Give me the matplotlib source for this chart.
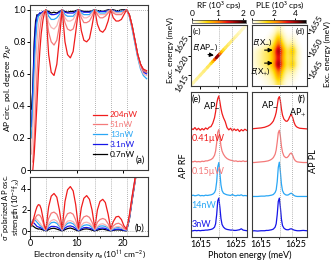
import numpy as np
import matplotlib
matplotlib.use('Agg')
from matplotlib import pyplot as plt
from matplotlib.colors import LinearSegmentedColormap, Normalize
from matplotlib.collections import LineCollection
from matplotlib.cm import ScalarMappable

nan = np.nan

# ---- (a),(b): polarization degree and osc. strength vs electron density
density = [0, 0.3, 0.6, 0.9, 1.2, 1.5, 1.8, 2.1, 2.4, 2.8, 3.1,
           3.4, 4.0, 4.55, 5.15, 5.75, 6.3,
           6.9, 7.5, 8.05, 8.65, 9.25, 9.8,
           10.4, 11.0, 11.55, 12.15, 12.75, 13.3,
           13.9, 14.45, 15.0, 15.6, 16.15, 16.75,
           17.3, 17.85, 18.45, 19.0, 19.6, 20.15,
           20.7, 21.3, 21.9, 22.5, 23.1, 23.7, 24.3, 25.0]
nu_lines = [3.4, 6.9, 10.4, 13.9, 17.3, 20.7]

pol_204 = [nan, nan, 0.0, 0.1, 0.25, 0.42, 0.6, 0.74, 0.85, 0.94, 0.98,
           1.0, 0.72, 0.61, 0.59, 0.66, 0.82,
           1.0, 0.8, 0.72, 0.70, 0.74, 0.86,
           1.0, 0.87, 0.81, 0.80, 0.82, 0.9,
           1.0, 0.91, 0.87, 0.86, 0.88, 0.93,
           1.0, 0.95, 0.93, 0.93, 0.94, 0.97,
           1.0, 0.97, 0.9, 0.81, 0.72, 0.66, 0.63, 0.62]
pol_51 = [nan, nan, 0.05, 0.2, 0.4, 0.6, 0.76, 0.87, 0.94, 0.98, 0.99,
          1.0, 0.86, 0.8, 0.78, 0.81, 0.9,
          1.0, 0.92, 0.88, 0.87, 0.88, 0.93,
          1.0, 0.95, 0.92, 0.92, 0.93, 0.96,
          1.0, 0.97, 0.95, 0.95, 0.96, 0.98,
          1.0, 0.98, 0.97, 0.97, 0.97, 0.99,
          1.0, 0.97, 0.9, 0.81, 0.72, 0.66, 0.62, 0.61]
pol_26 = [nan, 0.1, 0.25, 0.45, 0.65, 0.8, 0.9, 0.95, 0.97, 0.98, 0.99,
          1.0, 0.92, 0.89, 0.88, 0.9, 0.95,
          1.0, 0.95, 0.93, 0.93, 0.94, 0.97,
          1.0, 0.97, 0.95, 0.95, 0.96, 0.98,
          1.0, 0.98, 0.97, 0.97, 0.97, 0.99,
          1.0, 0.99, 0.98, 0.98, 0.98, 0.99,
          1.0, 0.96, 0.89, 0.8, 0.71, 0.64, 0.6, 0.59]
pol_13 = [nan, 0.2, 0.4, 0.62, 0.8, 0.92, 0.96, 0.97, 0.97, 0.98, 0.99,
          1.0, 0.96, 0.94, 0.94, 0.95, 0.97,
          1.0, 0.97, 0.96, 0.96, 0.96, 0.98,
          1.0, 0.98, 0.97, 0.97, 0.97, 0.99,
          1.0, 0.99, 0.98, 0.98, 0.98, 0.99,
          1.0, 0.99, 0.985, 0.985, 0.99, 0.99,
          1.0, 0.96, 0.88, 0.79, 0.7, 0.63, 0.59, 0.57]
pol_3 = [nan, 0.27, 0.5, 0.75, 0.9, 0.96, 0.97, 0.98, 0.98, 0.99, 0.99,
         1.0, 0.98, 0.97, 0.97, 0.975, 0.985,
         1.0, 0.985, 0.98, 0.98, 0.98, 0.99,
         1.0, 0.99, 0.985, 0.985, 0.985, 0.99,
         1.0, 0.99, 0.99, 0.99, 0.99, 0.995,
         1.0, 0.995, 0.99, 0.99, 0.99, 0.995,
         1.0, 0.96, 0.89, 0.8, 0.71, 0.65, 0.61, 0.6]
pol_07 = [nan, 0.38, 0.5, 0.8, 0.93, 0.97, 0.96, 0.98, 0.97, 0.99, 0.98,
          1.0, 0.99, 0.98, 0.985, 0.98, 0.99,
          1.0, 0.99, 0.985, 0.99, 0.99, 0.995,
          1.0, 0.995, 0.99, 0.99, 0.99, 0.995,
          1.0, 0.995, 0.995, 0.99, 0.995, 1.0,
          1.0, 1.0, 0.995, 0.995, 1.0, 1.0,
          1.0, 0.97, 0.9, 0.81, 0.72, 0.66, 0.62, 0.61]

osc_204 = [0.45, 0.6, 0.9, 1.4, 1.9, 2.3, 2.5, 2.45, 2.1, 1.2, 0.5,
           0.2, 2.3, 3.3, 3.55, 3.2, 2.0,
           0.25, 2.8, 3.9, 4.2, 3.8, 2.5,
           0.3, 2.2, 3.1, 3.35, 3.0, 2.0,
           0.3, 2.0, 2.8, 3.0, 2.7, 1.6,
           0.25, 0.9, 1.35, 1.4, 1.1, 0.5,
           0.2, 1.5, 3.3, 4.9, 6.5, 8.0, 9.0, 10.0]
osc_51 = [0.4, 0.5, 0.7, 1.0, 1.3, 1.5, 1.55, 1.5, 1.3, 0.8, 0.35,
          0.15, 1.2, 1.7, 1.8, 1.6, 1.0,
          0.15, 1.2, 1.65, 1.75, 1.6, 1.05,
          0.2, 1.0, 1.35, 1.45, 1.3, 0.85,
          0.2, 0.85, 1.1, 1.2, 1.1, 0.7,
          0.15, 0.5, 0.7, 0.75, 0.6, 0.3,
          0.15, 1.4, 3.2, 4.8, 6.4, 7.9, 9.0, 10.0]
osc_26 = [0.45, 0.7, 0.95, 1.15, 1.2, 1.1, 0.95, 0.8, 0.6, 0.4, 0.2,
          0.1, 0.7, 1.0, 1.1, 0.95, 0.6,
          0.1, 0.65, 0.95, 1.0, 0.9, 0.6,
          0.12, 0.55, 0.8, 0.85, 0.75, 0.5,
          0.12, 0.45, 0.65, 0.7, 0.6, 0.4,
          0.1, 0.3, 0.42, 0.45, 0.35, 0.18,
          0.12, 1.3, 3.1, 4.7, 6.3, 7.8, 9.0, 10.0]
osc_13 = [0.5, 0.8, 1.05, 1.1, 1.0, 0.85, 0.7, 0.55, 0.45, 0.3, 0.15,
          0.1, 0.55, 0.8, 0.85, 0.75, 0.45,
          0.1, 0.5, 0.75, 0.8, 0.7, 0.45,
          0.1, 0.4, 0.55, 0.6, 0.55, 0.35,
          0.1, 0.35, 0.48, 0.5, 0.45, 0.3,
          0.08, 0.22, 0.33, 0.35, 0.3, 0.15,
          0.1, 1.3, 3.2, 4.9, 6.5, 8.0, 9.0, 10.0]
osc_3 = [0.4, 0.7, 0.85, 0.75, 0.6, 0.45, 0.4, 0.35, 0.3, 0.2, 0.1,
         0.05, 0.3, 0.45, 0.45, 0.4, 0.25,
         0.05, 0.3, 0.45, 0.5, 0.42, 0.25,
         0.05, 0.22, 0.33, 0.35, 0.3, 0.2,
         0.05, 0.2, 0.28, 0.3, 0.27, 0.15,
         0.05, 0.12, 0.18, 0.2, 0.15, 0.08,
         0.05, 1.2, 3.0, 4.7, 6.3, 7.8, 9.0, 10.0]
osc_07 = [0.3, 0.55, 0.5, 0.4, 0.3, 0.25, 0.2, 0.22, 0.18, 0.12, 0.08,
          0.02, 0.15, 0.25, 0.28, 0.2, 0.12,
          0.02, 0.15, 0.25, 0.3, 0.22, 0.12,
          0.02, 0.12, 0.2, 0.22, 0.18, 0.1,
          0.02, 0.1, 0.17, 0.2, 0.15, 0.08,
          0.02, 0.08, 0.12, 0.12, 0.1, 0.05,
          0.02, 1.1, 2.9, 4.6, 6.2, 7.7, 9.0, 10.0]

# series, low power first so the red ends up on top
powers = ['0.7nW', '3.1nW', '13nW', '_26nW', '51nW', '204nW']
pol_curves = [pol_07, pol_3, pol_13, pol_26, pol_51, pol_204]
osc_curves = [osc_07, osc_3, osc_13, osc_26, osc_51, osc_204]
colors = ['black', '#1515e8', '#2aa7f5', '#f8b4b4', '#f47a7a', '#f01c1c']

# ---- (c) RF along the diagonal, (d) PLE map
diag_e = [1612, 1613, 1614, 1615, 1616, 1617, 1618, 1618.5, 1619, 1619.5, 1620, 1620.5,
          1621, 1621.5, 1622, 1623, 1624, 1625, 1626, 1627, 1628]
rf_int = [0.15, 0.2, 0.25, 0.3, 0.3, 0.35, 0.45, 0.6, 0.9, 1.4, 1.95, 1.3,
          0.8, 0.55, 0.45, 0.35, 0.3, 0.25, 0.2, 0.15, 0.1]

ple_det = [1613, 1614, 1615, 1616, 1617, 1618, 1619, 1620, 1621, 1622, 1623, 1624, 1625, 1626, 1627]
ple_exc = [1656, 1655, 1654, 1653, 1652, 1651, 1650, 1649, 1648, 1647, 1646, 1645, 1644]
ple_map = [
    [0, 0, 0, 0, 0, 0, 0.2, 0.5, 0.2, 0, 0, 0, 0, 0, 0],
    [0, 0, 0, 0, 0, 0.1, 0.4, 1.0, 0.4, 0.1, 0, 0.1, 0, 0, 0],
    [0, 0, 0, 0, 0.1, 0.3, 0.8, 1.8, 0.8, 0.3, 0.1, 0.3, 0.1, 0, 0],
    [0, 0, 0, 0.1, 0.3, 0.5, 1.2, 2.6, 1.2, 0.5, 0.3, 0.6, 0.2, 0, 0],
    [0, 0.1, 0.2, 0.4, 0.6, 0.9, 1.8, 3.5, 1.8, 0.9, 0.6, 1.2, 0.4, 0.1, 0],
    [0.2, 0.4, 0.6, 0.8, 1.0, 1.4, 2.6, 4.7, 2.6, 1.2, 1.0, 2.0, 0.7, 0.2, 0],
    [0.2, 0.4, 0.6, 0.8, 1.0, 1.3, 2.3, 3.8, 2.3, 1.1, 0.9, 1.5, 0.6, 0.2, 0],
    [0.2, 0.4, 0.6, 0.8, 1.0, 1.3, 2.3, 3.8, 2.3, 1.1, 0.9, 1.4, 0.6, 0.2, 0],
    [0.2, 0.4, 0.6, 0.8, 1.0, 1.4, 2.6, 4.8, 2.6, 1.2, 1.0, 1.9, 0.7, 0.2, 0],
    [0.1, 0.3, 0.4, 0.6, 0.8, 1.0, 1.8, 3.4, 1.8, 0.9, 0.7, 1.0, 0.4, 0.1, 0],
    [0, 0.1, 0.2, 0.3, 0.5, 0.7, 1.3, 2.6, 1.3, 0.6, 0.4, 0.5, 0.2, 0, 0],
    [0, 0, 0.1, 0.2, 0.3, 0.5, 1.0, 2.0, 1.0, 0.4, 0.2, 0.3, 0.1, 0, 0],
    [0, 0, 0, 0.1, 0.2, 0.3, 0.6, 1.2, 0.6, 0.2, 0.1, 0.1, 0, 0, 0]]

# ---- (e) RF spectra, (f) PL spectra (normalised, offsets added below)
spec_labels = ['0.41\u00b5W', '0.15\u00b5W', '14nW', '3nW']
spec_colors = ['#f01c1c', '#f47a7a', '#2aa7f5', '#1515e8']
rf_x = [1612.4, 1613, 1613.5, 1614, 1614.5, 1615, 1615.5, 1616, 1616.5, 1617, 1617.5, 1618, 1618.5,
        1619, 1619.3, 1619.6, 1619.9, 1620.2, 1620.5, 1620.8, 1621.1, 1621.5, 1622, 1622.5, 1623,
        1623.5, 1624, 1624.5, 1625, 1625.5, 1626, 1626.5, 1627, 1627.5, 1628.1]
rf_041 = [0.10, 0.06, 0.12, 0.05, 0.10, 0.04, 0.09, 0.05, 0.11, 0.07, 0.13, 0.15, 0.25,
          0.42, 0.6, 0.85, 1.0, 1.08, 0.9, 0.7, 0.55, 0.42, 0.3, 0.12, 0.05,
          0.1, 0.02, 0.08, 0.03, 0.07, 0.0, 0.06, 0.02, 0.07, 0.03]
rf_015 = [0.03, 0.02, 0.04, 0.02, 0.03, 0.02, 0.04, 0.03, 0.05, 0.05, 0.07, 0.09, 0.13,
          0.22, 0.35, 0.6, 0.92, 1.0, 0.78, 0.5, 0.35, 0.25, 0.17, 0.12, 0.09,
          0.07, 0.06, 0.04, 0.05, 0.03, 0.04, 0.03, 0.05, 0.03, 0.04]
rf_14 = [0.02, 0.04, 0.02, 0.03, 0.05, 0.02, 0.03, 0.02, 0.04, 0.03, 0.04, 0.05, 0.07,
         0.12, 0.2, 0.45, 0.9, 1.03, 0.7, 0.35, 0.18, 0.1, 0.07, 0.05, 0.04,
         0.03, 0.06, 0.03, 0.02, 0.04, 0.03, 0.05, 0.02, 0.03, 0.02]
rf_3 = [0.0, 0.01, 0.02, 0.01, 0.02, 0.01, 0.02, 0.02, 0.03, 0.03, 0.04, 0.05, 0.07,
        0.12, 0.22, 0.5, 0.92, 1.0, 0.72, 0.38, 0.2, 0.12, 0.07, 0.05, 0.04,
        0.03, 0.03, 0.02, 0.02, 0.03, 0.04, 0.07, 0.03, 0.02, 0.01]
rf_offsets = [3.2, 2.26, 1.23, 0.18]

pl_x = [1612.4, 1613, 1614, 1615, 1616, 1616.5, 1617, 1617.5, 1618, 1618.5, 1619, 1619.3, 1619.6,
        1619.9, 1620.2, 1620.5, 1620.8, 1621.1, 1621.5, 1622, 1622.4, 1622.8, 1623.2, 1623.6,
        1624.0, 1624.4, 1624.8, 1625.3, 1626, 1627, 1628.1]
pl_041 = [0.0, 0.01, 0.02, 0.03, 0.05, 0.07, 0.09, 0.12, 0.17, 0.24, 0.38, 0.5, 0.7,
          0.92, 0.98, 0.85, 0.6, 0.42, 0.3, 0.24, 0.23, 0.28, 0.38, 0.44,
          0.35, 0.2, 0.1, 0.05, 0.02, 0.01, 0.0]
pl_015 = [0.0, 0.0, 0.01, 0.02, 0.03, 0.04, 0.05, 0.07, 0.1, 0.15, 0.25, 0.38, 0.62,
          0.9, 0.98, 0.8, 0.5, 0.32, 0.2, 0.15, 0.15, 0.19, 0.26, 0.29,
          0.22, 0.11, 0.05, 0.02, 0.01, 0.0, 0.0]
pl_14 = [0.0, 0.0, 0.0, 0.01, 0.01, 0.02, 0.02, 0.03, 0.04, 0.06, 0.12, 0.2, 0.45,
         0.88, 1.04, 0.75, 0.38, 0.18, 0.09, 0.05, 0.04, 0.05, 0.08, 0.1,
         0.07, 0.03, 0.01, 0.0, 0.0, 0.0, 0.0]
pl_3 = [0.0, 0.01, 0.0, 0.01, 0.01, 0.02, 0.02, 0.03, 0.04, 0.06, 0.12, 0.22, 0.5,
        0.9, 1.0, 0.72, 0.36, 0.17, 0.09, 0.05, 0.04, 0.04, 0.06, 0.07,
        0.05, 0.03, 0.02, 0.01, 0.01, 0.02, 0.01]
pl_offsets = [3.28, 2.26, 1.23, 0.18]
ap_lines = [1620.3, 1623.9]

plt.rcParams.update({'font.family': ['Lato', 'DejaVu Sans'],
                     'font.size': 6,
                     'mathtext.fontset': 'stixsans',
                     'axes.linewidth': 0.8,
                     'axes.edgecolor': '#3a3a3a',
                     'xtick.major.size': 2, 'ytick.major.size': 2,
                     'xtick.minor.size': 1.3, 'ytick.minor.size': 1.3,
                     'xtick.major.pad': 0.5, 'ytick.major.pad': 1,
                     'xtick.major.width': 0.7, 'ytick.major.width': 0.7})

W, H = 335, 260
fig = plt.figure(figsize=(W / 100, H / 100), dpi=100)


def px_axes(x0, y0, x1, y1):
    return fig.add_axes([x0 / W, 1 - y1 / H, (x1 - x0) / W, (y1 - y0) / H])


def ftext(x, y, s, **kw):
    fig.text(x / W, 1 - y / H, s, **kw)


cmap = LinearSegmentedColormap.from_list('ple', [(0, 'white'), (0.1, '#fff6b0'), (0.28, '#ffd700'),
                                                 (0.48, '#ff7f00'), (0.66, '#e60d0d'),
                                                 (0.84, '#7a0000'), (1, 'black')])
dot = dict(color='#9a9a9a', ls=(0, (1, 1.5)), lw=0.6)

# (a)
ax_a = px_axes(30, 5, 148, 170)
handles = {}
for lab, pol, col in zip(powers, pol_curves, colors):
    h, = ax_a.plot(density, pol, color=col, lw=0.9, label=lab)
    handles[lab] = h
for nu in nu_lines:
    ax_a.axvline(nu, **dot)
ax_a.axhline(1.0, **dot)
ax_a.set_xlim(0, 25.3)
ax_a.set_ylim(0, 1.03)
ax_a.set_yticks([0, 0.2, 0.4, 0.6, 0.8, 1.0])
ax_a.set_yticklabels(['0', '0.2', '0.4', '0.6', '0.8', '1.0'], fontsize=6.5)
ax_a.set_xticks([0, 10, 20])
ax_a.tick_params(labelbottom=False)
leg_order = ['204nW', '51nW', '13nW', '3.1nW', '0.7nW']
ax_a.legend([handles[k] for k in leg_order], leg_order, frameon=False, loc='upper left',
            bbox_to_anchor=(0.5, 0.38), handlelength=1.6, handletextpad=0.4,
            labelspacing=0.35, borderpad=0, labelcolor='linecolor')
ax_a.text(0.97, 0.03, '(a)', transform=ax_a.transAxes, ha='right', va='bottom', fontsize=6.5)
ftext(8.5, 88, r'AP circ. pol. degree $\mathcal{P}_{AP}$', rotation=90, ha='center', va='center')

# (b)
ax_b = px_axes(30, 177, 148, 236)
for lab, osc, col in zip(powers, osc_curves, colors):
    ax_b.plot(density, osc, color=col, lw=0.9)
for nu in nu_lines:
    ax_b.axvline(nu, **dot)
ax_b.axhline(0, **dot)
ax_b.set_xlim(0, 25.3)
ax_b.set_ylim(-0.45, 5.1)
ax_b.set_yticks([0, 2, 4])
ax_b.set_yticklabels(['0', '2', '4'], fontsize=6.5)
ax_b.tick_params(axis='y', pad=0.5)
ax_b.set_xticks([0, 10, 20])
ax_b.set_xticklabels(['0', '10', '20'], fontsize=6.5)
ax_b.set_xticks([5, 15], minor=True)
ax_b.text(0.97, 0.06, '(b)', transform=ax_b.transAxes, ha='right', va='bottom', fontsize=6.5)
ftext(10.5, 207, 'σ$^{-}$polarized AP osc.\nstrength (10$^{-2}$f$_X$)', rotation=90,
      ha='center', va='center', linespacing=0.85, fontsize=5.5)
ftext(89, 255, r'Electron density $n_e$ (10$^{11}$ cm$^{-2}$)', ha='center', va='center')

xl = (1612.4, 1628.1)

# (c)
ax_c = px_axes(191, 25, 247, 86)
pts = np.array([diag_e, diag_e]).T.reshape(-1, 1, 2)
segs = np.concatenate([pts[:-1], pts[1:]], axis=1)
rf_vals = np.array(rf_int)
lc = LineCollection(segs, cmap=cmap, norm=Normalize(0, 2.1), lw=2.2, capstyle='round')
lc.set_array(0.5 * (rf_vals[:-1] + rf_vals[1:]))
ax_c.add_collection(lc)
for e in ap_lines:
    ax_c.axvline(e, **dot)
ax_c.set_xlim(*xl)
ax_c.set_ylim(1612.2, 1627.9)
ax_c.set_xticks([1615, 1625])
ax_c.set_xticks([1620], minor=True)
ax_c.tick_params(labelbottom=False)
ax_c.set_yticks([1615, 1620, 1625])
for t in ax_c.get_yticklabels():
    t.set_rotation(60)
    t.set_rotation_mode('anchor')
    t.set_ha('right')
    t.set_va('center')
ax_c.text(0.03, 0.96, '(c)', transform=ax_c.transAxes, ha='left', va='top')
ax_c.annotate('', xy=(1619.6, 1620.0), xytext=(1616.4, 1620.4),
              arrowprops=dict(arrowstyle='-|>', color='black', lw=0.8, mutation_scale=6))
ax_c.text(1616.4, 1622.2, r'$E$(AP$_{-}$)', ha='center', va='center')
ftext(170, 50, 'Exc. energy (meV)', rotation=90, ha='center', va='center')

cax_c = px_axes(192, 20, 246, 23)
cb = fig.colorbar(ScalarMappable(norm=Normalize(0, 2.1), cmap=cmap), cax=cax_c,
                  orientation='horizontal', ticks=[0, 1, 2])
cax_c.xaxis.set_ticks_position('top')
cax_c.tick_params(length=1.5, pad=0.5)
cb.outline.set_linewidth(0.5)
ftext(219, 5, 'RF (10$^3$ cps)', ha='center', va='center')

# (d)
ax_d = px_axes(252, 25, 307, 86)
ax_d.imshow(np.array(ple_map), cmap=cmap, vmin=0, vmax=5, aspect='auto', interpolation='bicubic',
            extent=[ple_det[0] - 0.5, ple_det[-1] + 0.5, ple_exc[-1] - 0.5, ple_exc[0] + 0.5])
for e in ap_lines:
    ax_d.axvline(e, **dot)
ax_d.set_xlim(*xl)
ax_d.set_ylim(1643.2, 1656.8)
ax_d.set_xticks([1615, 1625])
ax_d.set_xticks([1620], minor=True)
ax_d.tick_params(labelbottom=False)
ax_d.yaxis.tick_right()
ax_d.set_yticks([1645, 1650, 1655])
for t in ax_d.get_yticklabels():
    t.set_rotation(60)
    t.set_rotation_mode('anchor')
    t.set_ha('left')
    t.set_va('center')
ax_d.text(0.97, 0.96, '(d)', transform=ax_d.transAxes, ha='right', va='top')
ax_d.annotate('', xy=(1619.1, 1651.2), xytext=(1615.2, 1651.2),
              arrowprops=dict(arrowstyle='-|>', color='black', lw=0.8, mutation_scale=6))
ax_d.annotate('', xy=(1619.1, 1648.3), xytext=(1615.2, 1648.3),
              arrowprops=dict(arrowstyle='-|>', color='black', lw=0.8, mutation_scale=6))
ax_d.text(1615.3, 1652.9, r'$E$(X$_{-}$)', ha='center', va='center')
ax_d.text(1614.8, 1646.5, r'$E$(X$_{+}$)', ha='center', va='center')
ftext(327, 54, 'Exc. energy (meV)', rotation=90, ha='center', va='center')

cax_d = px_axes(252, 20, 306, 23)
cb = fig.colorbar(ScalarMappable(norm=Normalize(0, 5), cmap=cmap), cax=cax_d,
                  orientation='horizontal', ticks=[0, 2, 4])
cax_d.xaxis.set_ticks_position('top')
cax_d.tick_params(length=1.5, pad=0.5)
cb.outline.set_linewidth(0.5)
ftext(280, 5, 'PLE (10$^3$ cps)', ha='center', va='center')

# (e)
ax_e = px_axes(191, 92, 247, 237)
for y, off, col in zip([rf_041, rf_015, rf_14, rf_3], rf_offsets, spec_colors):
    ax_e.plot(rf_x, np.array(y) + off, color=col, lw=0.9)
for e in ap_lines:
    ax_e.axvline(e, **dot)
ax_e.set_xlim(*xl)
ax_e.set_ylim(0, 4.4)
ax_e.set_yticks([])
ax_e.set_xticks([1615, 1625])
ax_e.set_xticklabels(['1615', '1625'], fontsize=6.5)
ax_e.set_xticks([1620], minor=True)
for lab, col, yy in zip(spec_labels, spec_colors, [3.0, 2.0, 0.97, 0.38]):
    ax_e.text(1612.6, yy, lab, color=col, ha='left', va='center', fontsize=6.5)
ax_e.text(0.02, 0.985, '(e)', transform=ax_e.transAxes, ha='left', va='top', fontsize=6.5)
ax_e.text(1618.3, 4.0, 'AP$_{-}$', ha='center', va='center', fontsize=6.5)
ftext(184, 166, 'AP RF', rotation=90, ha='center', va='center', fontsize=6.5)

# (f)
ax_f = px_axes(252, 92, 307, 237)
for y, off, col in zip([pl_041, pl_015, pl_14, pl_3], pl_offsets, spec_colors):
    ax_f.plot(pl_x, np.array(y) + off, color=col, lw=0.9)
for e in ap_lines:
    ax_f.axvline(e, **dot)
ax_f.set_xlim(*xl)
ax_f.set_ylim(0, 4.4)
ax_f.set_yticks([])
ax_f.set_xticks([1615, 1625])
ax_f.set_xticklabels(['1615', '1625'], fontsize=6.5)
ax_f.set_xticks([1620], minor=True)
ax_f.text(0.97, 0.985, '(f)', transform=ax_f.transAxes, ha='right', va='top', fontsize=6.5)
ax_f.text(1617.6, 4.02, 'AP$_{-}$', ha='center', va='center', fontsize=6.5)
ax_f.text(1625.6, 3.8, 'AP$_{+}$', ha='center', va='center', fontsize=6.5)
ftext(313, 161, 'AP PL', rotation=90, ha='center', va='center', fontsize=6.5)
ftext(250, 255, 'Photon energy (meV)', ha='center', va='center', fontsize=6.5)

fig.savefig('out.png', dpi=100)
